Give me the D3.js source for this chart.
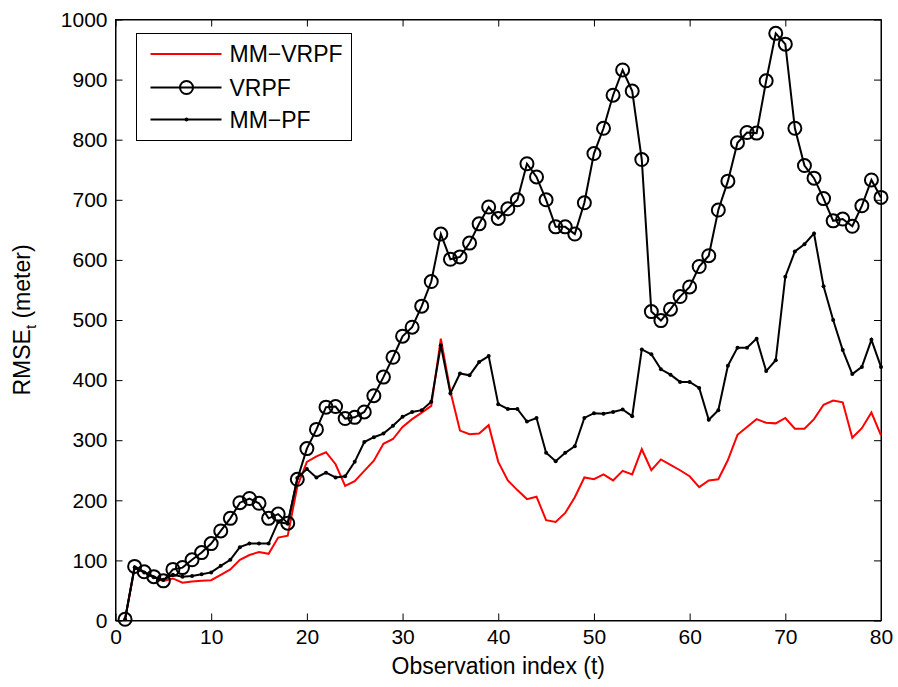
<!DOCTYPE html>
<html lang="en">
<head>
<meta charset="UTF-8">
<title>RMSE vs observation index</title>
<style>
    html, body {
        margin: 0;
        padding: 0;
        background: #fff;
    }
    svg text {
        font-family: 'Liberation Sans', Arial, sans-serif;
        fill: #000;
    }
</style>
</head>
<body>
<div id="graph"></div>
<script src="https://d3js.org/d3.v7.min.js"></script>
<script>
// observation index t = 1..80
const obs = d3.range(1, 81);

const mmVrpf = [2, 88, 80, 72, 66, 70, 63, 65, 66, 67, 76, 85, 101, 109, 114, 111, 138, 141, 223, 264,
    273, 280, 260, 224, 232, 249, 266, 294, 302, 322, 335, 346, 357, 469, 381, 316, 310, 311, 325, 264,
    233, 217, 202, 206, 167, 164, 179, 205, 238, 235, 243, 233, 249, 243, 285, 250, 268, 259, 250, 240,
    222, 233, 235, 267, 309, 322, 335, 329, 328, 337, 319, 319, 335, 359, 366, 363, 304, 320, 346, 308];

const vrpf = [2, 90, 81, 73, 66, 85, 88, 101, 113, 128, 149, 170, 196, 203, 195, 170, 177, 162, 235, 286,
    318, 355, 356, 336, 338, 347, 374, 405, 438, 473, 488, 523, 564, 643, 601, 605, 628, 660, 688, 669,
    685, 700, 760, 738, 700, 655, 655, 643, 695, 777, 819, 874, 916, 881, 767, 514, 499, 518, 539, 555,
    589, 607, 683, 731, 795, 812, 811, 898, 977, 959, 819, 757, 736, 702, 665, 668, 656, 690, 733, 704];

const mmPf = [2, 88, 80, 72, 68, 76, 73, 74, 77, 80, 91, 101, 122, 128, 128, 128, 164, 161, 237, 252,
    238, 246, 238, 240, 264, 297, 305, 311, 324, 339, 347, 350, 364, 458, 378, 411, 408, 430, 440, 360,
    352, 352, 331, 337, 279, 265, 279, 290, 337, 345, 344, 347, 351, 340, 451, 443, 418, 409, 397, 397,
    387, 334, 350, 424, 454, 454, 469, 415, 433, 572, 614, 626, 644, 556, 500, 450, 410, 422, 467, 422];

const xTicks = [0, 10, 20, 30, 40, 50, 60, 70, 80];
const yTicks = [0, 100, 200, 300, 400, 500, 600, 700, 800, 900, 1000];
const seriesNames = ["MM\u2212VRPF", "VRPF", "MM\u2212PF"];

const W = 898, H = 687;
const margin = {top: 19.5, left: 115.5, right: 17, bottom: 66.5};

const svg = d3.select("#graph")
    .append("svg")
    .attr("width", W)
    .attr("height", H);

const x = d3.scaleLinear().domain([0, 80]).range([margin.left, W - margin.right]);
const y = d3.scaleLinear().domain([0, 1000]).range([H - margin.bottom, margin.top]);

// frame box
svg.append("rect")
    .attr("x", x(0)).attr("y", y(1000))
    .attr("width", x(80) - x(0)).attr("height", y(0) - y(1000))
    .attr("fill", "none").attr("stroke", "#000").attr("stroke-width", 1);

// AXES (ticks point inward, like matlab)
const fmt = d3.format("d");
svg.append("g")
    .attr("transform", `translate(0, ${y(0)})`)
    .call(d3.axisBottom(x).tickValues(xTicks).tickFormat(fmt).tickSizeInner(-7).tickSizeOuter(0).tickPadding(9));
svg.append("g")
    .attr("transform", `translate(${x(0)}, 0)`)
    .call(d3.axisLeft(y).tickValues(yTicks).tickFormat(fmt).tickSizeInner(-7).tickSizeOuter(0).tickPadding(8));
svg.append("g")
    .attr("transform", `translate(0, ${y(1000)})`)
    .call(d3.axisTop(x).tickValues(xTicks).tickFormat("").tickSizeInner(-7).tickSizeOuter(0));
svg.append("g")
    .attr("transform", `translate(${x(80)}, 0)`)
    .call(d3.axisRight(y).tickValues(yTicks).tickFormat("").tickSizeInner(-7).tickSizeOuter(0));

svg.selectAll(".domain").attr("stroke", "#000");
svg.selectAll(".tick line").attr("stroke", "#000");
svg.selectAll(".tick text")
    .style("font-family", "'Liberation Sans', Arial, sans-serif")
    .style("font-size", "21px")
    .attr("fill", "#000");

// axis labels
svg.append("text")
    .attr("x", (x(0) + x(80)) / 2)
    .attr("y", 674)
    .attr("text-anchor", "middle")
    .style("font-size", "23px")
    .text("Observation index (t)");

const ylab = svg.append("text")
    .attr("transform", `translate(30, ${(y(0) + y(1000)) / 2}) rotate(-90)`)
    .attr("text-anchor", "middle")
    .style("font-size", "23px");
ylab.append("tspan").text("RMSE");
ylab.append("tspan").attr("dy", 6).style("font-size", "15px").text("t");
ylab.append("tspan").attr("dy", -6).text(" (meter)");

// LINES
const line = d3.line().x((d, i) => x(obs[i])).y(d => y(d));

svg.append("path")
    .datum(mmVrpf)
    .attr("d", line)
    .attr("fill", "none")
    .attr("stroke", "#ff0000")
    .attr("stroke-width", 2);

svg.append("path")
    .datum(vrpf)
    .attr("d", line)
    .attr("fill", "none")
    .attr("stroke", "#000")
    .attr("stroke-width", 2);
svg.append("g").selectAll("circle")
    .data(vrpf).enter()
    .append("circle")
    .attr("cx", (d, i) => x(obs[i]))
    .attr("cy", d => y(d))
    .attr("r", 6.5)
    .attr("fill", "none")
    .attr("stroke", "#000")
    .attr("stroke-width", 2);

svg.append("path")
    .datum(mmPf)
    .attr("d", line)
    .attr("fill", "none")
    .attr("stroke", "#000")
    .attr("stroke-width", 2);
svg.append("g").selectAll("circle")
    .data(mmPf).enter()
    .append("circle")
    .attr("cx", (d, i) => x(obs[i]))
    .attr("cy", d => y(d))
    .attr("r", 2)
    .attr("fill", "#000");

// LEGEND
const lg = svg.append("g").attr("transform", "translate(136.5, 33.5)");
lg.append("rect")
    .attr("width", 215).attr("height", 107)
    .attr("fill", "#fff").attr("stroke", "#000").attr("stroke-width", 1);
const rowY = [20.5, 54, 86];
const rowColor = ["#ff0000", "#000", "#000"];
seriesNames.forEach((name, i) => {
    lg.append("line")
        .attr("x1", 14).attr("x2", 85)
        .attr("y1", rowY[i]).attr("y2", rowY[i])
        .attr("stroke", rowColor[i]).attr("stroke-width", 2);
    if (i === 1) {
        lg.append("circle").attr("cx", 50).attr("cy", rowY[i]).attr("r", 6.5)
            .attr("fill", "none").attr("stroke", "#000").attr("stroke-width", 2);
    }
    if (i === 2) {
        lg.append("circle").attr("cx", 50).attr("cy", rowY[i]).attr("r", 2).attr("fill", "#000");
    }
    lg.append("text")
        .attr("x", 93)
        .attr("y", rowY[i] + 8)
        .style("font-size", "23px")
        .text(name);
});
</script>
</body>
</html>
